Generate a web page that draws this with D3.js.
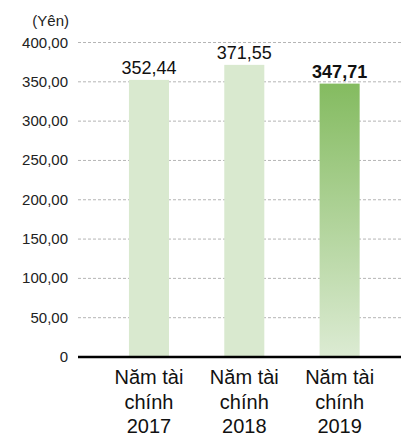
<!DOCTYPE html>
<html>
<head>
<meta charset="utf-8">
<script src="https://cdn.jsdelivr.net/npm/d3@7"></script>
<style>
  body { margin: 0; background: #fff; }
  text { font-family: "Liberation Sans", Arial, sans-serif; }
</style>
</head>
<body>
<div id="chartContainer"></div>
<script>
// data
var years = ["2017", "2018", "2019"];
var values = [352.44, 371.55, 347.71];
var valueLabels = ["352,44", "371,55", "347,71"];
var yTicks = [0, 50, 100, 150, 200, 250, 300, 350, 400];
var yTickLabels = ["0", "50,00", "100,00", "150,00", "200,00", "250,00", "300,00", "350,00", "400,00"];

var width = 401, height = 438;
var svg = d3.select("#chartContainer").append("svg")
  .attr("width", width).attr("height", height);

var y = d3.scaleLinear().domain([0, 400]).range([357, 42.5]);
var x = d3.scaleBand().domain(years).range([101.3, 387.3])
  .paddingInner(0.58).paddingOuter(0.29);

// gradient for the highlighted year
var grad = svg.append("defs").append("linearGradient")
  .attr("id", "g2019").attr("x1", 0).attr("y1", 0).attr("x2", 0).attr("y2", 1);
grad.append("stop").attr("offset", "0%").attr("stop-color", "#84bb60");
grad.append("stop").attr("offset", "100%").attr("stop-color", "#dcebd3");

// dashed gridlines
svg.selectAll("line.grid")
  .data(yTicks.filter(function(d) { return d > 0; }))
  .enter().append("line")
  .attr("class", "grid")
  .attr("x1", 78).attr("x2", width)
  .attr("y1", function(d) { return y(d); })
  .attr("y2", function(d) { return y(d); })
  .attr("stroke", "#b5b5b5")
  .attr("stroke-width", 1)
  .attr("stroke-dasharray", "3,2");

// y tick labels
svg.selectAll("text.ytick")
  .data(yTicks)
  .enter().append("text")
  .attr("class", "ytick")
  .attr("x", 68)
  .attr("y", function(d) { return y(d) + 5; })
  .attr("text-anchor", "end")
  .attr("font-size", "15px")
  .attr("fill", "#222")
  .text(function(d, i) { return yTickLabels[i]; });

svg.append("text")
  .attr("x", 69).attr("y", 26)
  .attr("text-anchor", "end")
  .attr("font-size", "15px")
  .attr("fill", "#222")
  .text("(Yên)");

// bars
svg.selectAll("rect.bar")
  .data(values)
  .enter().append("rect")
  .attr("class", "bar")
  .attr("x", function(d, i) { return x(years[i]); })
  .attr("y", function(d) { return y(d); })
  .attr("width", x.bandwidth())
  .attr("height", function(d) { return y(0) - y(d); })
  .attr("fill", function(d, i) { return i == 2 ? "url(#g2019)" : "#d9e9cf"; });

// value labels
svg.selectAll("text.val")
  .data(values)
  .enter().append("text")
  .attr("class", "val")
  .attr("x", function(d, i) { return x(years[i]) + x.bandwidth() / 2; })
  .attr("y", function(d) { return y(d) - 6; })
  .attr("text-anchor", "middle")
  .attr("font-size", "18px")
  .attr("font-weight", function(d, i) { return i == 2 ? "bold" : "normal"; })
  .attr("fill", "#111")
  .text(function(d, i) { return valueLabels[i]; });

// x axis baseline
svg.append("line")
  .attr("x1", 78).attr("x2", width)
  .attr("y1", y(0)).attr("y2", y(0))
  .attr("stroke", "#000").attr("stroke-width", 2.5);

// category labels
var cat = svg.selectAll("text.cat")
  .data(years)
  .enter().append("text")
  .attr("class", "cat")
  .attr("text-anchor", "middle")
  .attr("font-size", "20px")
  .attr("fill", "#111");
cat.each(function(d) {
  var t = d3.select(this);
  var cx = x(d) + x.bandwidth() / 2;
  ["Năm tài", "chính", d].forEach(function(s, j) {
    t.append("tspan").attr("x", cx).attr("y", 384 + j * 24.5).text(s);
  });
});
</script>
</body>
</html>
